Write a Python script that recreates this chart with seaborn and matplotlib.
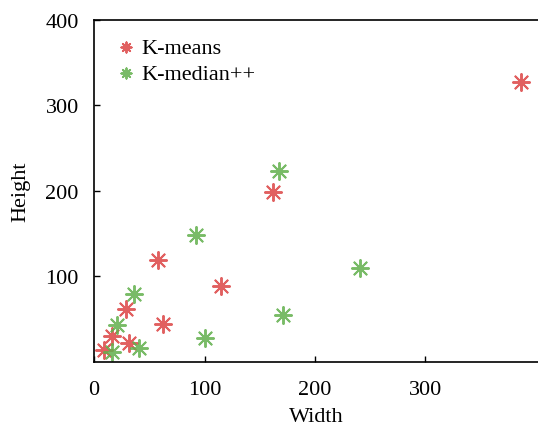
import matplotlib
matplotlib.use("Agg")
import matplotlib.pyplot as plt
import pandas as pd
import seaborn as sns

kmeans_w = [58, 115, 29, 62, 16, 32, 9, 162, 387]
kmeans_h = [119, 89, 61, 44, 30, 22, 13, 198, 327]
kmedian_w = [92, 241, 36, 171, 21, 100, 41, 16, 167]
kmedian_h = [148, 109, 79, 54, 43, 28, 16, 11, 223]
labels = ["K-means", "K-median++"]
colors = ["#dc4444", "#62b04c"]

df = pd.concat([
    pd.DataFrame({"Width": kmeans_w, "Height": kmeans_h, "method": labels[0]}),
    pd.DataFrame({"Width": kmedian_w, "Height": kmedian_h, "method": labels[1]}),
])

sns.set_style("ticks")
plt.rcParams['font.family'] = ['Liberation Serif', 'DejaVu Serif']
plt.rcParams['text.color'] = 'black'
plt.rcParams['axes.labelcolor'] = 'black'

fig = plt.figure(figsize=(5.38, 4.27), dpi=100)
ax = fig.add_axes([0.175, 0.151, 0.825, 0.80])

for lab, col in zip(labels, colors):
    sns.scatterplot(x="Width", y="Height", data=df[df["method"] == lab], ax=ax,
                    marker=(8, 2, 0), s=150, color=col, edgecolor=col,
                    linewidth=1.4, alpha=0.85, label=lab)

ax.set_xlim(0, 402)
ax.set_ylim(0, 400)
ax.set_xticks([0, 100, 200, 300])
ax.set_yticks([100, 200, 300, 400])
ax.tick_params(direction="in", length=4, width=1, labelsize=16, colors="black")
ax.tick_params(axis="x", pad=13)
ax.tick_params(axis="y", pad=11)
for side in ["left", "bottom", "top"]:
    ax.spines[side].set_linewidth(1.2)
    ax.spines[side].set_color("black")
ax.spines["right"].set_visible(False)

ax.set_xlabel("Width", fontsize=16, labelpad=6)
ax.set_ylabel("Height", fontsize=16, labelpad=11)

ax.legend(loc="upper left", bbox_to_anchor=(0.022, 0.975), borderaxespad=0,
          frameon=False, fontsize=16, markerscale=0.6, handlelength=1.2,
          handletextpad=0.1, labelspacing=0.25, labelcolor="black")

fig.savefig("out.png", dpi=100)
